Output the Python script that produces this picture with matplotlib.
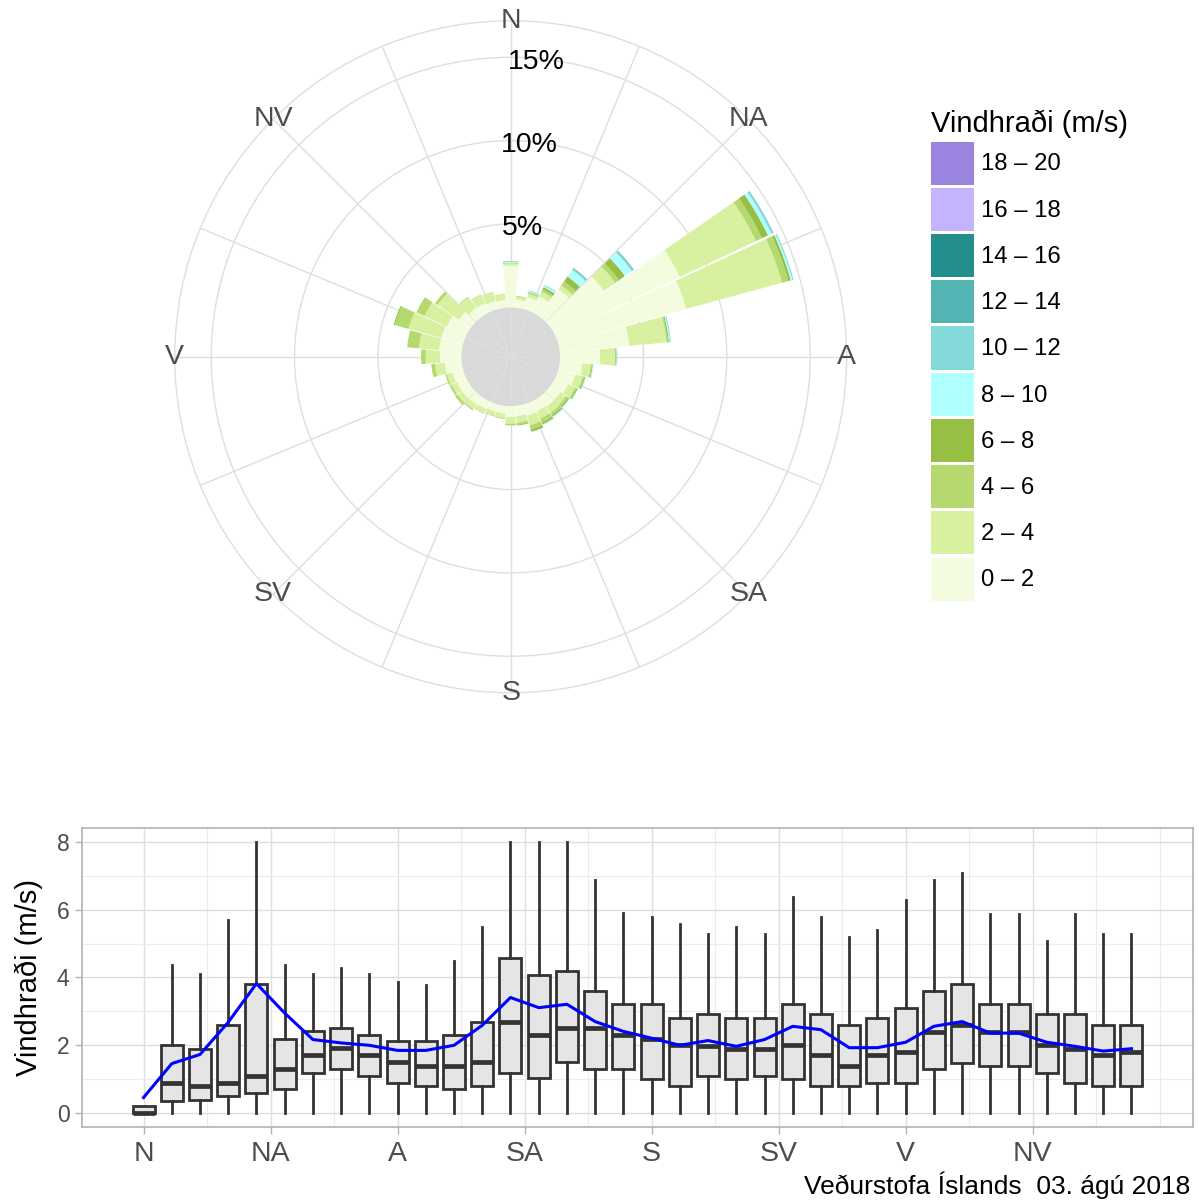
import matplotlib.pyplot as plt
import numpy as np
from matplotlib.patches import Patch

plt.rcParams['font.family'] = ['Liberation Sans', 'DejaVu Sans']

# ---- wind rose: % of observations per direction and speed class ----
directions = np.arange(0, 360, 10)
dir_names = ['N', 'NA', 'A', 'SA', 'S', 'SV', 'V', 'NV']

speed_labels = ['0 – 2', '2 – 4', '4 – 6', '6 – 8', '8 – 10',
                '10 – 12', '12 – 14', '14 – 16', '16 – 18', '18 – 20']
speed_colors = ['#f4fce0', '#d7f1a0', '#b5d86f', '#97bf44', '#b0ffff',
                '#84d9d9', '#54b4b4', '#238f8d', '#c4b3ff', '#9b84e0']

s0_2 = [2.50, 0.47, 0.75, 1.03, 2.00, 3.87, 8.25, 7.94, 4.17, 2.39, 1.35, 1.05,
        0.85, 0.70, 0.70, 0.65, 0.70, 0.60, 0.65, 0.45, 0.45, 0.50, 0.55, 0.60,
        0.60, 0.65, 1.00, 1.27, 1.34, 1.34, 1.27, 0.85, 0.60, 0.60, 0.50, 0.45]
s2_4 = [0.13, 0.18, 0.21, 0.32, 0.28, 0.84, 5.05, 5.96, 2.25, 0.89, 0.50, 0.45,
        0.45, 0.40, 0.45, 0.50, 0.60, 0.40, 0.40, 0.28, 0.25, 0.27, 0.35, 0.35,
        0.35, 0.35, 0.60, 0.86, 1.22, 2.05, 1.48, 1.55, 0.80, 0.55, 0.55, 0.40]
s4_6 = [0.02, 0.05, 0.06, 0.15, 0.29, 0.28, 0.40, 0.40, 0.08, 0.07, 0.08, 0.10,
        0.12, 0.15, 0.17, 0.25, 0.25, 0.12, 0.10, 0.05, 0.04, 0.04, 0.08, 0.12,
        0.10, 0.10, 0.22, 0.28, 0.71, 0.85, 0.54, 0.19, 0.05, 0.03, 0.02, 0.00]
s6_8 = [0.02, 0.00, 0.04, 0.15, 0.36, 0.43, 0.40, 0.15, 0.07, 0.04, 0.05, 0.07,
        0.07, 0.10, 0.10, 0.12, 0.15, 0.05, 0.00, 0.00, 0.00, 0.00, 0.00, 0.04,
        0.03, 0.00, 0.00, 0.00, 0.00, 0.07, 0.00, 0.00, 0.00, 0.00, 0.00, 0.00]
s8_10 = [0.05, 0.00, 0.06, 0.10, 0.48, 0.50, 0.23, 0.10, 0.06, 0.06, 0.05, 0.04,
         0.03, 0.05, 0.08, 0.06, 0.03, 0.00, 0.00, 0.00, 0.00, 0.00, 0.00, 0.00,
         0.02, 0.00, 0.00, 0.00, 0.00, 0.00, 0.00, 0.00, 0.00, 0.00, 0.00, 0.00]
s10_12 = [0.05, 0.00, 0.04, 0.05, 0.09, 0.10, 0.10, 0.07, 0.05, 0.00, 0.00, 0.00,
          0.00, 0.00, 0.00, 0.00, 0.00, 0.00, 0.00, 0.00, 0.00, 0.00, 0.00, 0.00,
          0.00, 0.00, 0.00, 0.00, 0.00, 0.00, 0.00, 0.00, 0.00, 0.00, 0.00, 0.00]
s12_14 = [0.00, 0.00, 0.00, 0.00, 0.05, 0.05, 0.03, 0.00, 0.00, 0.00, 0.00, 0.00,
          0.00, 0.00, 0.00, 0.00, 0.00, 0.00, 0.00, 0.00, 0.00, 0.00, 0.00, 0.00,
          0.00, 0.00, 0.00, 0.00, 0.00, 0.00, 0.00, 0.00, 0.00, 0.00, 0.00, 0.00]
rose_series = [s0_2, s2_4, s4_6, s6_8, s8_10, s10_12, s12_14]
pct_rings = [5, 10, 15]

# ---- box plot of wind speed per direction ----
box_q1 = [0.00, 0.36, 0.39, 0.51, 0.59, 0.70, 1.19, 1.31, 1.09, 0.90, 0.80, 0.70,
          0.80, 1.19, 1.04, 1.50, 1.29, 1.29, 1.00, 0.80, 1.09, 1.00, 1.09, 1.00,
          0.80, 0.80, 0.90, 0.90, 1.31, 1.48, 1.39, 1.39, 1.19, 0.90, 0.80, 0.80]
box_med = [0.00, 0.90, 0.80, 0.90, 1.10, 1.31, 1.71, 1.91, 1.71, 1.51, 1.40, 1.40,
           1.51, 2.70, 2.30, 2.51, 2.51, 2.30, 2.20, 2.00, 1.97, 1.90, 1.90, 2.00,
           1.71, 1.40, 1.71, 1.80, 2.40, 2.60, 2.40, 2.40, 2.00, 1.90, 1.71, 1.80]
box_q3 = [0.20, 2.00, 1.90, 2.60, 3.80, 2.20, 2.41, 2.50, 2.31, 2.12, 2.12, 2.31,
          2.70, 4.58, 4.07, 4.19, 3.61, 3.22, 3.22, 2.80, 2.91, 2.80, 2.80, 3.21,
          2.91, 2.60, 2.80, 3.10, 3.61, 3.80, 3.21, 3.21, 2.91, 2.91, 2.60, 2.60]
whisk_lo = [0.0] * 36
whisk_hi = [0.20, 4.38, 4.09, 5.70, 8.00, 4.38, 4.09, 4.28, 4.09, 3.88, 3.79, 4.49,
            5.48, 8.00, 8.00, 8.00, 6.89, 5.89, 5.79, 5.58, 5.29, 5.48, 5.29, 6.38,
            5.79, 5.19, 5.39, 6.28, 6.89, 7.09, 5.87, 5.87, 5.09, 5.87, 5.29, 5.29]
speed_mean = [0.46, 1.46, 1.73, 2.68, 3.82, 2.95, 2.17, 2.07, 2.00, 1.85, 1.85, 2.00,
              2.59, 3.41, 3.11, 3.21, 2.70, 2.41, 2.21, 2.00, 2.14, 1.97, 2.17, 2.56,
              2.46, 1.93, 1.93, 2.09, 2.56, 2.70, 2.36, 2.36, 2.09, 1.97, 1.83, 1.90]

caption = 'Veðurstofa Íslands  03. ágú 2018'

grid_col = '#dedede'
text_grey = '#4d4d4d'

fig = plt.figure(figsize=(11.99, 12.01), dpi=100)

# ================= wind rose =================
hole = 2.97      # size of the grey calm disc in % units
r_outer = 17.19
ax = fig.add_axes([0.1457, 0.4232, 0.5605, 0.5595], projection='polar')
ax.set_theta_zero_location('N')
ax.set_theta_direction(-1)
ax.set_ylim(-hole, r_outer)
ax.set_axisbelow(True)

theta = np.deg2rad(directions)
bottom = np.zeros(len(directions))
for vals, col in zip(rose_series, speed_colors):
    vals = np.array(vals)
    ax.bar(theta, vals, width=np.deg2rad(9.5), bottom=bottom, color=col,
           edgecolor='none', zorder=1)
    bottom += vals

ax.bar(0, hole, width=2 * np.pi, bottom=-hole, color='#d9d9d9',
       edgecolor='none', zorder=0.2)

ax.set_xticks(np.deg2rad(np.arange(0, 360, 22.5)))
ax.set_xticklabels([])
ax.set_yticks(pct_rings)
ax.set_yticklabels([])
ax.grid(True, color=grid_col, lw=1.0)
ax.spines['polar'].set_color(grid_col)
ax.spines['polar'].set_linewidth(1.0)
ax.tick_params(length=0)

for i, name in enumerate(dir_names):
    ax.text(np.deg2rad(i * 45), r_outer, name, ha='center', va='center',
            fontsize=20.5, color=text_grey)
for p in pct_rings:
    ax.text(np.deg2rad(5), p - 0.2, f'{p}%', ha='center', va='center',
            fontsize=20.5, color='black')

handles = [Patch(facecolor=c, edgecolor='none') for c in speed_colors][::-1]
leg = fig.legend(handles, speed_labels[::-1], loc='upper left',
                 bbox_to_anchor=(931 / 1199, 1 - 110 / 1201), frameon=False,
                 fontsize=17.2, title='Vindhraði (m/s)', title_fontsize=21,
                 handlelength=1.8, handleheight=2.4, labelspacing=0.13,
                 handletextpad=0.3, borderpad=0, borderaxespad=0,
                 alignment='left')

# ================= box plot =================
bx = fig.add_axes([0.0684, 0.0616, 0.9266, 0.249])
stats = []
for i in range(len(directions)):
    stats.append(dict(med=box_med[i], q1=box_q1[i], q3=box_q3[i],
                      whislo=whisk_lo[i], whishi=whisk_hi[i], fliers=[]))
bx.bxp(stats, positions=directions, widths=7.8, showfliers=False,
       showcaps=False, patch_artist=True, manage_ticks=False,
       boxprops=dict(facecolor='#e5e5e5', edgecolor='#333333', lw=2.0),
       medianprops=dict(color='#333333', lw=3.4, solid_capstyle='butt'),
       whiskerprops=dict(color='#333333', lw=2.0))
bx.plot(directions, speed_mean, color='#0000ff', lw=2.2, zorder=5)

bx.set_xlim(-21.8, 371.8)
bx.set_ylim(-0.41, 8.41)
bx.set_xticks(np.arange(0, 360, 45))
bx.set_xticklabels(dir_names)
bx.set_xticks(np.append(np.arange(22.5, 360, 45), 360), minor=True)
bx.set_yticks([0, 2, 4, 6, 8])
bx.set_yticks([1, 3, 5, 7], minor=True)
bx.set_axisbelow(True)
bx.grid(True, which='major', color=grid_col, lw=1.0)
bx.grid(True, which='minor', color='#ececec', lw=0.8)
for s in bx.spines.values():
    s.set_color('#b3b3b3')
    s.set_linewidth(1.2)
bx.tick_params(which='major', length=5, width=1, color='#b3b3b3')
bx.tick_params(which='minor', length=0)
bx.tick_params(axis='x', labelsize=20.5, labelcolor=text_grey, pad=5)
bx.tick_params(axis='y', labelsize=16.5, labelcolor=text_grey, pad=4)
bx.set_ylabel('Vindhraði (m/s)', fontsize=21, labelpad=10)

fig.text(1190 / 1199, 1 - 1185 / 1201, caption, ha='right', va='center',
         fontsize=19)

fig.savefig('out.png', dpi=100)
